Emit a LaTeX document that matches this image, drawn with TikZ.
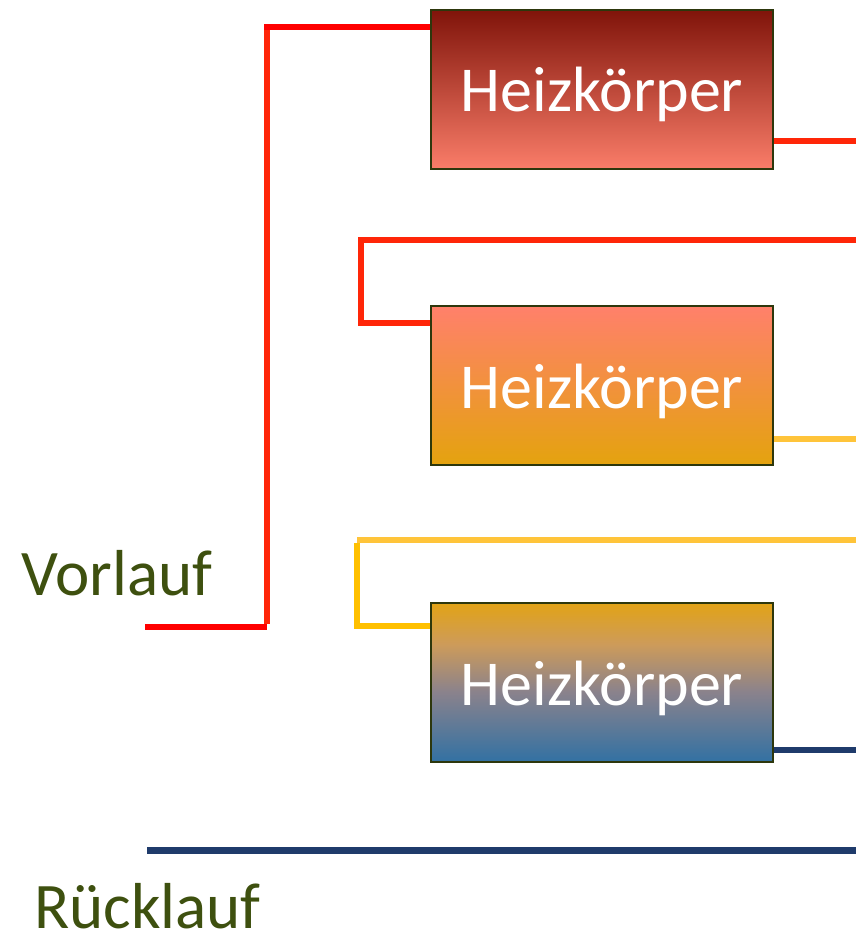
\documentclass[tikz,border=0pt]{standalone}
\usepackage{fontspec}
\setmainfont{Carlito}
\begin{document}
\definecolor{boxborder}{RGB}{45,55,12}
\definecolor{lblcol}{RGB}{62,80,15}
\definecolor{hotred}{RGB}{255,38,8}
\definecolor{pured}{RGB}{255,0,0}
\definecolor{warmyel}{RGB}{255,196,58}
\definecolor{goldyel}{RGB}{255,192,0}
\definecolor{navy}{RGB}{31,59,107}
\definecolor{c1top}{RGB}{128,20,10}
\definecolor{c1bot}{RGB}{250,125,105}
\definecolor{c2top}{RGB}{255,128,107}
\definecolor{c2bot}{RGB}{228,163,14}
\definecolor{c3top}{RGB}{226,163,22}
\definecolor{c3tan}{RGB}{205,155,90}
\definecolor{c3mid}{RGB}{138,130,140}
\definecolor{c3bot}{RGB}{50,113,163}
\pgfdeclareverticalshading{hzthree}{100bp}{color(0bp)=(c3bot); color(25bp)=(c3bot); color(47bp)=(c3mid); color(62bp)=(c3tan); color(75bp)=(c3top); color(100bp)=(c3top)}
\newcommand{\hzlabel}{\raisebox{-22.5pt}[0pt][0pt]{Heizkörper}}
\begin{tikzpicture}[x=1pt,y=-1pt,
  heiz/.style={draw=boxborder, line width=2pt, minimum width=342pt, minimum height=159pt, inner sep=0pt,
    text=white, font=\fontsize{64}{70}\selectfont},
  pipe/.style={line width=6pt, line join=miter},
  lbl/.style={text=lblcol, font=\fontsize{65}{70}\selectfont, inner sep=0pt, anchor=base west}]
\useasboundingbox (0,0) rectangle (856,936);

\node[heiz, top color=c1top, bottom color=c1bot] (h1) at (602,89.5) {\hzlabel};
\node[heiz, top color=c2top, bottom color=c2bot] (h2) at (602,385.5) {\hzlabel};
\node[heiz, shading=hzthree] (h3) at (602,682.5) {\hzlabel};

\node[lbl] (vl) at (21,595) {Vorlauf};
\node[lbl] (rl) at (34,928) {Rücklauf};

% coordinates
\coordinate (v0) at (145,627);
\coordinate (v1) at (267,27);
\coordinate (o1) at (856,141);
\coordinate (a1) at (856,240);
\coordinate (a2) at (361,323);
\coordinate (o2) at (856,439);
\coordinate (b1) at (856,540);
\coordinate (b2) at (357,626);
\coordinate (o3) at (856,750);
\coordinate (r0) at (147,850);
\coordinate (r1) at (856,850);

% supply to first radiator
\draw[pipe, pured] (v0) -- (v0 -| v1);
\draw[pipe, hotred] ([yshift=3pt]v0 -| v1) -- ([yshift=-3pt]v1);
\draw[pipe, pured] ([xshift=-3pt]v1) -- (v1 -| h1.west);
% outlet 1 -> inlet 2
\draw[pipe, hotred] (o1 -| h1.east) -- (o1);
\draw[pipe, hotred] (a1) -- (a1 -| a2) -- (a2) -- (a2 -| h2.west);
% outlet 2 -> inlet 3
\draw[pipe, warmyel] (o2 -| h2.east) -- (o2);
\draw[pipe, warmyel] (b1) -- (b1 -| b2);
\draw[pipe, goldyel] ([yshift=-3pt]b1 -| b2) -- (b2) -- (b2 -| h3.west);
% outlet 3 and return
\draw[pipe, navy] (o3 -| h3.east) -- (o3);
\draw[pipe, navy, line width=7pt] (r0) -- (r1);
\end{tikzpicture}
\end{document}
